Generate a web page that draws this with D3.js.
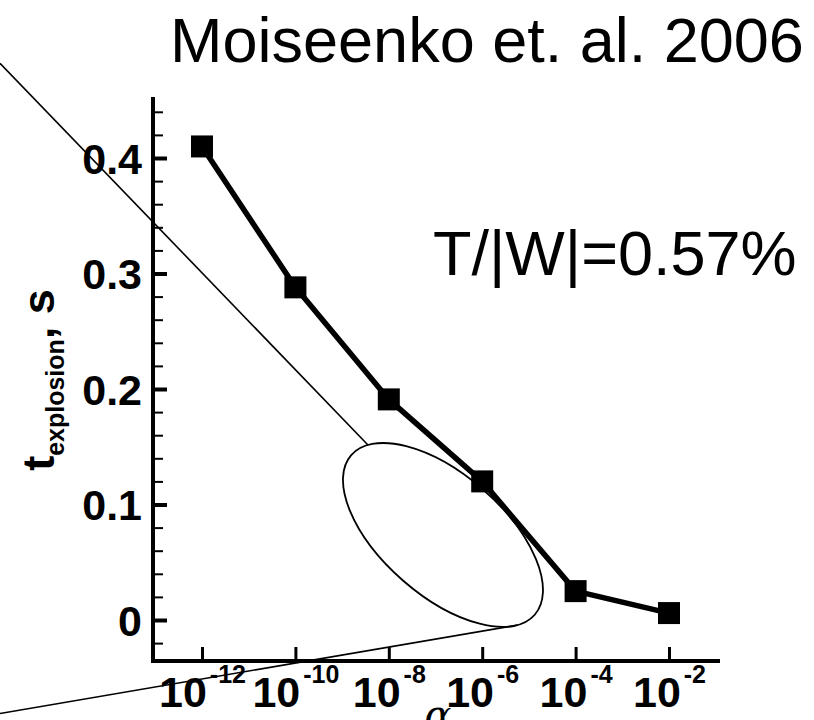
<!DOCTYPE html>
<html>
<head>
<meta charset="utf-8">
<script src="https://cdn.jsdelivr.net/npm/d3@7"></script>
<style>
  html, body { margin: 0; padding: 0; background: #fff; }
  svg { display: block; font-family: "Liberation Sans", Arial, sans-serif; }
</style>
</head>
<body>
<div id="chart"></div>
<script>
const WIDTH = 814;
const HEIGHT = 720;

// data
const alpha = [1e-12, 1e-10, 1e-8, 1e-6, 1e-4, 1e-2];
const tExplosion = [0.41, 0.288, 0.191, 0.12, 0.025, 0.006];

// ticks
const xTickExp = [-12, -10, -8, -6, -4, -2];
const yMajor = [0, 0.1, 0.2, 0.3, 0.4];
const yMajorLabels = ["0", "0.1", "0.2", "0.3", "0.4"];
const yMinor = [-0.02, 0.02, 0.04, 0.06, 0.08, 0.12, 0.14, 0.16, 0.18, 0.22, 0.24, 0.26, 0.28, 0.32, 0.34, 0.36, 0.38, 0.42, 0.44];

const titleText = "Moiseenko et. al. 2006";
const noteText = "T/|W|=0.57%";

const FONT = "Liberation Sans, Arial, sans-serif";

// plot frame
const BOX = {left: 153, right: 720, top: 97, bottom: 661};

const x = d3.scaleLog()
    .domain([1e-12, 1e-2])
    .range([202, 669]);

const y = d3.scaleLinear()
    .domain([0, 0.4])
    .range([620, 158]);

const svg = d3.select("#chart")
    .append("svg")
    .attr("width", WIDTH)
    .attr("height", HEIGHT);

// title + note
svg.append("text")
    .attr("x", 170)
    .attr("y", 62)
    .attr("font-size", 63)
    .text(titleText);

svg.append("text")
    .attr("x", 433)
    .attr("y", 275)
    .attr("font-size", 63)
    .text(noteText);

// y axis (minor first, then major)
const gyMinor = svg.append("g")
    .attr("transform", "translate(" + BOX.left + ",0)")
    .call(d3.axisLeft(y).tickValues(yMinor).tickSize(-10).tickFormat(""));
gyMinor.select(".domain").remove();
gyMinor.selectAll(".tick line").attr("stroke-width", 2);

const gy = svg.append("g")
    .attr("transform", "translate(" + BOX.left + ",0)")
    .call(d3.axisLeft(y)
        .tickValues(yMajor)
        .tickSize(-14)
        .tickPadding(11)
        .tickFormat((d, i) => yMajorLabels[i]));
gy.select(".domain").remove();
gy.selectAll(".tick line").attr("stroke-width", 4);
gy.selectAll(".tick text")
    .attr("font-family", FONT)
    .attr("font-size", 43)
    .attr("font-weight", "bold")
    .attr("dy", "0.36em");

// x axis
const gx = svg.append("g")
    .attr("transform", "translate(0," + BOX.bottom + ")")
    .call(d3.axisBottom(x)
        .tickValues(xTickExp.map(e => Math.pow(10, e)))
        .tickSize(-14)
        .tickFormat(""));
gx.select(".domain").remove();
gx.selectAll(".tick line").attr("stroke-width", 3);
gx.selectAll(".tick text")
    .attr("font-family", FONT)
    .attr("font-weight", "bold")
    .attr("font-size", 43)
    .attr("y", 46)
    .attr("dy", null)
    .each(function (d, i) {
        const t = d3.select(this);
        t.append("tspan").text("10");
        t.append("tspan")
            .attr("font-size", 25)
            .attr("dx", 3)
            .attr("dy", -24)
            .text(String(xTickExp[i]));
    });

// axis lines
svg.append("line")
    .attr("x1", BOX.left).attr("x2", BOX.left)
    .attr("y1", BOX.top).attr("y2", BOX.bottom + 2)
    .attr("stroke", "#000").attr("stroke-width", 4);
svg.append("line")
    .attr("x1", BOX.left - 2).attr("x2", BOX.right)
    .attr("y1", BOX.bottom).attr("y2", BOX.bottom)
    .attr("stroke", "#000").attr("stroke-width", 4);

// axis titles
const yTitle = svg.append("text")
    .attr("transform", "translate(54,380) rotate(-90)")
    .attr("text-anchor", "middle")
    .attr("font-weight", "bold")
    .attr("font-size", 45);
yTitle.append("tspan").text("t");
yTitle.append("tspan").attr("font-size", 25).attr("dy", 10).text("explosion");
yTitle.append("tspan").attr("dy", -10).text(", s");

svg.append("text")
    .attr("x", 438)
    .attr("y", 728)
    .attr("text-anchor", "middle")
    .attr("font-family", "DejaVu Serif, serif")
    .attr("font-style", "italic")
    .attr("font-size", 40)
    .text("α");

// zoom ellipse annotation, centred in data space
const ell = {cx: x(Math.pow(10, -6.84)), cy: y(0.0736), rx: 121.6, ry: 60.6, angle: 41};
svg.append("ellipse")
    .attr("cx", 0).attr("cy", 0)
    .attr("rx", ell.rx).attr("ry", ell.ry)
    .attr("transform", "translate(" + ell.cx + "," + ell.cy + ") rotate(" + ell.angle + ")")
    .attr("fill", "none")
    .attr("stroke", "#000")
    .attr("stroke-width", 1.8);

const ellPoint = (deg) => {
    const t = deg * Math.PI / 180, r = ell.angle * Math.PI / 180;
    const u = ell.rx * Math.cos(t), v = ell.ry * Math.sin(t);
    return [ell.cx + u * Math.cos(r) - v * Math.sin(r), ell.cy + u * Math.sin(r) + v * Math.cos(r)];
};

// callout lines from the left edge to the ellipse
const callouts = [
    {from: [0, y(0.482)], to: ellPoint(198)},
    {from: [0, y(-0.081)], to: ellPoint(18)}
];
svg.selectAll("line.callout")
    .data(callouts)
    .enter()
    .append("line")
    .attr("class", "callout")
    .attr("x1", d => d.from[0]).attr("y1", d => d.from[1])
    .attr("x2", d => d.to[0]).attr("y2", d => d.to[1])
    .attr("stroke", "#000")
    .attr("stroke-width", 1.6);

// data line + markers
const points = alpha.map((a, i) => ({a, t: tExplosion[i]}));

svg.append("path")
    .datum(points)
    .attr("fill", "none")
    .attr("stroke", "#000")
    .attr("stroke-width", 5.5)
    .attr("stroke-linejoin", "round")
    .attr("d", d3.line().x(d => x(d.a)).y(d => y(d.t)));

const SQ = 22;
svg.selectAll("rect.marker")
    .data(points)
    .enter()
    .append("rect")
    .attr("class", "marker")
    .attr("x", d => x(d.a) - SQ / 2)
    .attr("y", d => y(d.t) - SQ / 2)
    .attr("width", SQ)
    .attr("height", SQ)
    .attr("fill", "#000");
</script>
</body>
</html>
